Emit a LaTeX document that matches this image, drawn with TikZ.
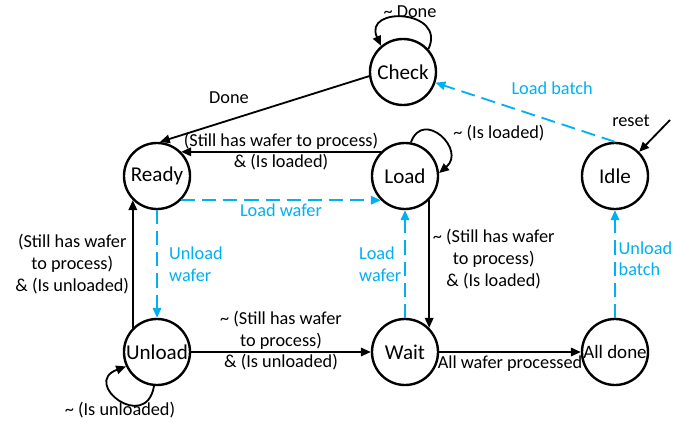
\documentclass[tikz,border=0pt]{standalone}
\usepackage{fontspec}
\setmainfont{Carlito}
\usetikzlibrary{arrows.meta}
\definecolor{wafblue}{RGB}{0,176,240}

\begin{document}
\begin{tikzpicture}[
  x=0.025cm, y=-0.025cm,
  state/.style={draw, circle, line width=1.7pt, minimum size=1.65cm, inner sep=0pt, font=\fontsize{15}{17}\selectfont},
  arr/.style={-{Triangle[length=7pt,width=6pt]}, line width=1.3pt},
  blu/.style={arr, wafblue, dash pattern=on 10pt off 5pt},
  lbl/.style={font=\fontsize{13}{15.5}\selectfont, align=center, inner sep=2pt},
  blbl/.style={lbl, text=wafblue, align=left}
]
\useasboundingbox (0,0) rectangle (693,422);

\node[state] (check) at (403,72) {Check};
\node[state] (ready) at (157,176) {Ready};
\node[state] (load) at (405,176) {Load};
\node[state] (idle) at (615,176) {Idle};
\node[state] (unload) at (157,352) {Unload};
\node[state] (wait) at (405,352) {Wait};
\node[state, font=\fontsize{13.5}{15}\selectfont] (alldone) at (615,352) {All done};
\coordinate (resetin) at (670,120);

\draw[arr] (check.42) to[out=65,in=115,distance=1.1cm] (check.130);
\node[lbl] (lnotdone) at (410,12) {\textasciitilde\ Done};
\draw[arr] (check.187) -- node[lbl, pos=0.67, above=9pt] (ldone) {Done} (ready.85);

\draw[arr] (load.135) -- node[lbl, above, inner sep=1pt] (lstill) {(Still has wafer to process)}
  node[lbl, below, inner sep=1pt] (lisload) {\& (Is loaded)} (ready.45);
\draw[blu] (ready.-45) -- node[blbl, below] (lloadw) {Load wafer} (load.-135);
\draw[blu] (ready) -- node[blbl, right=6pt, pos=0.5] (lunw) {Unload\\wafer} (unload);
\draw[arr] (unload.135) -- node[lbl, left] (lunback) {(Still has wafer\\to process)\\\& (Is unloaded)} (ready.-135);

\draw[arr] (unload.-95) to[out=-100,in=200,distance=1.2cm] (unload.205);
\node[lbl] (lisunl) at (120,410) {\textasciitilde\ (Is unloaded)};
\draw[arr] (unload) -- node[lbl, above, inner sep=1pt] (lnotstill) {\textasciitilde\ (Still has wafer\\to process)}
  node[lbl, below, inner sep=1pt] (lisunl2) {\& (Is unloaded)} (wait);

\draw[arr] (load.80) to[out=70,in=40,distance=0.9cm] (load.5);
\node[lbl] (lisload2) at (499,133) {\textasciitilde\ (Is loaded)};
\draw[arr] (load.-45) -- node[lbl, right, pos=0.46] (lnotstill2) {\textasciitilde\ (Still has wafer\\to process)\\\& (Is loaded)} (wait.45);
\draw[blu] (wait) -- node[blbl, left] (lloadw2) {Load\\wafer} (load);

\draw[arr] (wait) -- node[lbl, below] (lallproc) {All wafer processed} (alldone);
\draw[blu] (alldone) -- node[blbl, right, pos=0.55] (lunb) {Unload\\batch} (idle);
\draw[blu] (idle.north) -- node[blbl, pos=0.35, above=16pt] (lloadb) {Load batch} (check);
\node[lbl] (lreset) at (631,121) {reset};
\draw[arr] (resetin) -- (idle.45);
\end{tikzpicture}
\end{document}
